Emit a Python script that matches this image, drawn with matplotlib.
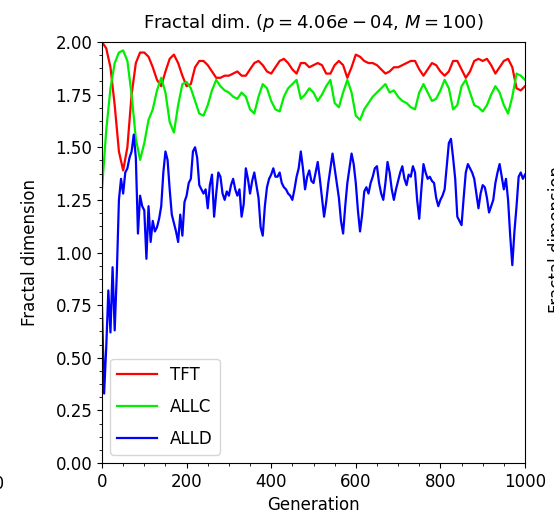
import matplotlib
matplotlib.use("Agg")
import matplotlib.pyplot as plt
from matplotlib.ticker import AutoMinorLocator
import numpy as np

# generations for TFT / ALLC (every 10) and ALLD (every 5)
gen10 = list(range(0, 1001, 10))
gen5 = list(range(0, 1001, 5))

tft = [2.00, 1.97, 1.88, 1.70, 1.48, 1.39, 1.50, 1.75, 1.90, 1.95,
       1.95, 1.93, 1.88, 1.82, 1.79, 1.86, 1.92, 1.94, 1.90, 1.84,
       1.79, 1.80, 1.88, 1.91, 1.91, 1.89, 1.86, 1.83, 1.83, 1.84,
       1.84, 1.85, 1.86, 1.84, 1.84, 1.87, 1.90, 1.91, 1.89, 1.86,
       1.85, 1.88, 1.91, 1.92, 1.90, 1.87, 1.85, 1.90, 1.90, 1.88,
       1.89, 1.90, 1.89, 1.85, 1.85, 1.89, 1.91, 1.89, 1.83, 1.88,
       1.94, 1.93, 1.91, 1.90, 1.90, 1.89, 1.87, 1.85, 1.86, 1.88,
       1.88, 1.89, 1.90, 1.91, 1.91, 1.87, 1.84, 1.87, 1.90, 1.89,
       1.86, 1.84, 1.86, 1.91, 1.91, 1.87, 1.83, 1.86, 1.91, 1.92,
       1.91, 1.92, 1.89, 1.85, 1.88, 1.91, 1.92, 1.88, 1.78, 1.77,
       1.79]

allc = [1.30, 1.58, 1.78, 1.90, 1.95, 1.96, 1.91, 1.75, 1.54, 1.44,
        1.52, 1.63, 1.68, 1.77, 1.83, 1.76, 1.62, 1.57, 1.70, 1.80,
        1.81, 1.78, 1.72, 1.66, 1.65, 1.70, 1.77, 1.82, 1.79, 1.77,
        1.76, 1.74, 1.73, 1.76, 1.74, 1.68, 1.66, 1.74, 1.80, 1.78,
        1.72, 1.68, 1.67, 1.74, 1.78, 1.80, 1.82, 1.73, 1.75, 1.78,
        1.76, 1.72, 1.75, 1.79, 1.82, 1.71, 1.69, 1.76, 1.82, 1.76,
        1.65, 1.63, 1.68, 1.71, 1.74, 1.76, 1.78, 1.80, 1.76, 1.77,
        1.74, 1.72, 1.71, 1.69, 1.68, 1.76, 1.80, 1.76, 1.72, 1.73,
        1.77, 1.82, 1.78, 1.68, 1.70, 1.79, 1.82, 1.76, 1.70, 1.69,
        1.67, 1.70, 1.75, 1.79, 1.76, 1.70, 1.66, 1.74, 1.85, 1.84,
        1.82]

alld = [0.74, 0.33, 0.55, 0.82, 0.62, 0.93, 0.63, 0.90, 1.25, 1.35,
        1.28, 1.38, 1.40, 1.45, 1.48, 1.56, 1.45, 1.09, 1.27, 1.22,
        1.20, 0.97, 1.22, 1.05, 1.15, 1.10, 1.12, 1.16, 1.22, 1.38,
        1.48, 1.44, 1.30, 1.18, 1.14, 1.10, 1.05, 1.18, 1.08, 1.24,
        1.27, 1.33, 1.35, 1.48, 1.50, 1.45, 1.32, 1.30, 1.28, 1.30,
        1.21, 1.32, 1.37, 1.17, 1.28, 1.38, 1.36, 1.28, 1.25, 1.29,
        1.27, 1.32, 1.35, 1.30, 1.27, 1.30, 1.17, 1.23, 1.40, 1.35,
        1.28, 1.34, 1.38, 1.32, 1.26, 1.12, 1.08, 1.22, 1.31, 1.35,
        1.37, 1.40, 1.36, 1.36, 1.38, 1.33, 1.31, 1.30, 1.28, 1.27,
        1.25, 1.30, 1.36, 1.40, 1.48, 1.40, 1.30, 1.36, 1.39, 1.34,
        1.33, 1.38, 1.43, 1.35, 1.26, 1.17, 1.24, 1.33, 1.40, 1.47,
        1.40, 1.33, 1.26, 1.15, 1.09, 1.22, 1.33, 1.40, 1.47, 1.42,
        1.33, 1.20, 1.10, 1.18, 1.29, 1.31, 1.28, 1.33, 1.36, 1.40,
        1.41, 1.33, 1.28, 1.25, 1.33, 1.43, 1.38, 1.30, 1.25, 1.30,
        1.34, 1.38, 1.41, 1.35, 1.32, 1.37, 1.36, 1.41, 1.38, 1.25,
        1.16, 1.30, 1.42, 1.38, 1.35, 1.36, 1.34, 1.33, 1.26, 1.22,
        1.25, 1.27, 1.30, 1.41, 1.52, 1.54, 1.45, 1.35, 1.17, 1.15,
        1.13, 1.26, 1.38, 1.42, 1.40, 1.38, 1.35, 1.28, 1.21, 1.28,
        1.32, 1.31, 1.26, 1.19, 1.22, 1.25, 1.33, 1.38, 1.42, 1.36,
        1.30, 1.35, 1.25, 1.08, 0.94, 1.10, 1.22, 1.36, 1.38, 1.35,
        1.37]

plt.rcParams['font.size'] = 12

fig = plt.figure(figsize=(5.54, 5.17), dpi=100)
ax = fig.add_axes([102 / 554, 1 - 463 / 517, 423 / 554, 421 / 517])

ax.plot(gen10, tft, color='#ff0000', lw=1.6, label='TFT')
ax.plot(gen10, allc, color='#00ee00', lw=1.6, label='ALLC')
ax.plot(gen5, alld, color='#0000ff', lw=1.6, label='ALLD')

ax.set_xlim(0, 1000)
ax.set_ylim(0, 2)
ax.set_yticks(np.arange(0, 2.01, 0.25))
ax.xaxis.set_minor_locator(AutoMinorLocator(4))
ax.yaxis.set_minor_locator(AutoMinorLocator(4))
ax.set_xlabel('Generation')
ax.set_ylabel('Fractal dimension', labelpad=12)
ax.set_title('Fractal dim. ($p=4.06e-04$, $M=100$)', fontsize=13, pad=10)
ax.legend(loc='lower left', labelspacing=0.85, handlelength=2.4)

# bits of the neighbouring panels that show at the edges
fig.text(4 / 554, 1 - 484 / 517, '1000', ha='right', va='center')
fig.text(557 / 554, 1 - 240 / 517, 'Fractal dimension', rotation=90,
         ha='center', va='center')

fig.savefig('out.png', dpi=100)
